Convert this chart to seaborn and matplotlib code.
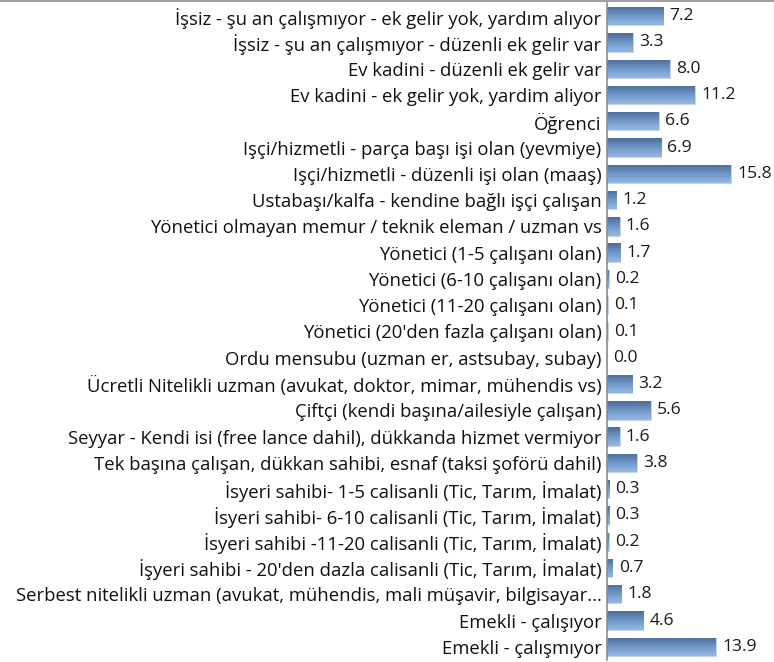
import numpy as np
import pandas as pd
import matplotlib
matplotlib.use("Agg")
import matplotlib.pyplot as plt
from matplotlib.colors import LinearSegmentedColormap
from matplotlib.lines import Line2D
import seaborn as sns

# ================================
# DATA
# ================================
categories = [
    "İşsiz - şu an çalışmıyor - ek gelir yok, yardım alıyor",
    "İşsiz - şu an çalışmıyor - düzenli ek gelir var",
    "Ev kadini - düzenli ek gelir var",
    "Ev kadini - ek gelir yok, yardim aliyor",
    "Öğrenci",
    "Işçi/hizmetli - parça başı işi olan (yevmiye)",
    "Işçi/hizmetli - düzenli işi olan (maaş)",
    "Ustabaşı/kalfa - kendine bağlı işçi çalışan",
    "Yönetici olmayan memur / teknik eleman / uzman vs",
    "Yönetici (1-5 çalışanı olan)",
    "Yönetici (6-10 çalışanı olan)",
    "Yönetici (11-20 çalışanı olan)",
    "Yönetici (20'den fazla çalışanı olan)",
    "Ordu mensubu (uzman er, astsubay, subay)",
    "Ücretli Nitelikli uzman (avukat, doktor, mimar, mühendis vs)",
    "Çiftçi (kendi başına/ailesiyle çalışan)",
    "Seyyar - Kendi isi (free lance dahil), dükkanda hizmet vermiyor",
    "Tek başına çalışan, dükkan sahibi, esnaf (taksi şoförü dahil)",
    "İsyeri sahibi- 1-5 calisanli (Tic, Tarım, İmalat)",
    "İsyeri sahibi- 6-10 calisanli (Tic, Tarım, İmalat)",
    "İsyeri sahibi -11-20 calisanli (Tic, Tarım, İmalat)",
    "İşyeri sahibi - 20'den dazla calisanli (Tic, Tarım, İmalat)",
    "Serbest nitelikli uzman (avukat, mühendis, mali müşavir, bilgisayar...",
    "Emekli - çalışıyor",
    "Emekli - çalışmıyor",
]
values = [7.2, 3.3, 8.0, 11.2, 6.6, 6.9, 15.8, 1.2, 1.6, 1.7, 0.2, 0.1, 0.1,
          0.0, 3.2, 5.6, 1.6, 3.8, 0.3, 0.3, 0.2, 0.7, 1.8, 4.6, 13.9]

df = pd.DataFrame({"kategori": categories, "deger": values})

# ================================
# STYLE
# ================================
sns.set_style("white")
plt.rcParams["font.family"] = ["Open Sans", "DejaVu Sans"]
FS = 13.3

fig = plt.figure(figsize=(7.74, 6.62), dpi=100)
ax = fig.add_axes([607 / 774, 2 / 662, 1 - 607 / 774, 657 / 662])

sns.barplot(data=df, x="deger", y="kategori", order=categories,
            color="#6a8fc0", width=0.7, edgecolor="#c5d6ec", linewidth=0.6,
            ax=ax)

# gradient fill for bars (dark top, light bottom)
cmap = LinearSegmentedColormap.from_list("bar", ["#4d6c97", "#7097c8", "#95b9e5"])
grad = np.linspace(0, 1, 64).reshape(-1, 1)
for p in ax.patches:
    x0, y0 = p.get_x(), p.get_y()
    w, h = p.get_width(), p.get_height()
    if w <= 0:
        continue
    im = ax.imshow(grad, cmap=cmap, aspect="auto", origin="upper",
                   extent=(x0, x0 + w, y0 + h, y0), zorder=p.get_zorder() + 0.1)
    im.set_clip_path(p)

ax.bar_label(ax.containers[0], fmt="%.1f", padding=4.5, fontsize=12.6,
             color="#1a1a1a", clip_on=False)

ax.set_xlim(0, 21.3)
ax.set_ylim(len(categories) - 0.5, -0.5)
ax.set_xlabel("")
ax.set_ylabel("")
ax.set_xticks([])

# spines
for s in ["top", "right", "bottom"]:
    ax.spines[s].set_visible(False)
ax.spines["left"].set_color("#8c8c8c")
ax.spines["left"].set_linewidth(1.2)

# category labels + boundary tick marks
ax.tick_params(axis="y", which="major", length=0, pad=4, labelsize=FS,
               labelcolor="#111111")
ax.set_yticks(np.arange(-0.5, len(categories), 1), minor=True)
ax.tick_params(axis="y", which="minor", length=5, width=1.2, color="#8c8c8c",
               direction="out")

# thin gray line at the very top
fig.add_artist(Line2D([0, 1], [0.999, 0.999], color="#a0a0a0", linewidth=1.5,
                      transform=fig.transFigure))

fig.savefig("out.png", dpi=100)
